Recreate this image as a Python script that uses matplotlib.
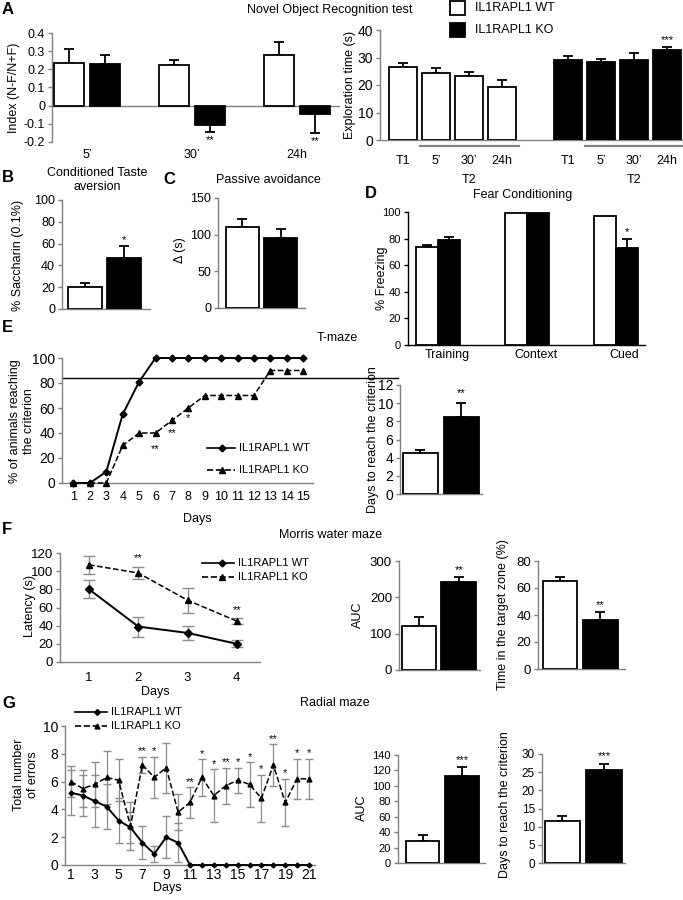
import matplotlib
matplotlib.use('Agg')
import matplotlib.pyplot as plt
from matplotlib.lines import Line2D
from matplotlib.patches import Rectangle
import matplotlib.transforms as mtransforms

plt.rcParams['font.family'] = ['Liberation Sans', 'DejaVu Sans']
plt.rcParams['font.size'] = 9
plt.rcParams['axes.linewidth'] = 1.0

# ---------------- data ----------------
# A left: novel object recognition index
nor_times = ["5\u2019", "30\u2019", "24h"]
nor_index_wt = [0.235, 0.225, 0.28]
nor_index_wt_err = [0.075, 0.025, 0.07]
nor_index_ko = [0.23, -0.105, -0.045]
nor_index_ko_err = [0.05, 0.04, 0.105]
nor_index_sig = ["", "**", "**"]

# A right: exploration time
expl_labels = ["T1", "5\u2019", "30\u2019", "24h"]
expl_wt = [26.5, 24.3, 23.4, 19.4]
expl_wt_err = [1.5, 1.8, 1.2, 2.3]
expl_ko = [29.2, 28.4, 29.2, 32.8]
expl_ko_err = [1.2, 0.9, 2.3, 1.2]
expl_ko_sig = ["", "", "", "***"]

# B: conditioned taste aversion
cta_vals = [20, 47]
cta_err = [4, 11]
cta_sig = ["", "*"]

# C: passive avoidance
pa_vals = [110, 96]
pa_err = [12, 12]

# D: fear conditioning
fc_labels = ["Training", "Context", "Cued"]
fc_wt = [74, 99, 97]
fc_wt_err = [1, 0, 0]
fc_ko = [79, 99.5, 73]
fc_ko_err = [2.5, 0, 7]
fc_ko_sig = ["", "", "*"]

# E: T-maze
tmaze_days = list(range(1, 16))
tmaze_wt = [0, 0, 9, 55, 81, 100, 100, 100, 100, 100, 100, 100, 100, 100, 100]
tmaze_ko = [0, 0, 0, 30, 40, 40, 50, 60, 70, 70, 70, 70, 90, 90, 90]
tmaze_criterion = 84
tmaze_sig_days = [6, 7, 8]
tmaze_sig = ["**", "**", "*"]
tmaze_sig_y = [27, 40, 52]
tmaze_crit_days = [4.5, 8.5]
tmaze_crit_err = [0.3, 1.5]
tmaze_crit_sig = ["", "**"]

# F: Morris water maze
mwm_days = [1, 2, 3, 4]
mwm_wt = [80, 39, 32, 20]
mwm_wt_err = [10, 11, 8, 4]
mwm_ko = [107, 98, 68, 45]
mwm_ko_err = [10, 7, 14, 3]
mwm_sig = ["", "**", "", "**"]
mwm_auc = [120, 242]
mwm_auc_err = [25, 15]
mwm_auc_sig = ["", "**"]
mwm_target = [65, 36]
mwm_target_err = [3, 6]
mwm_target_sig = ["", "**"]

# G: radial maze
rm_days = list(range(1, 22))
rm_wt = [5.2, 5.0, 4.6, 4.2, 3.2, 2.7, 1.6, 0.8, 2.0, 1.6, 0, 0, 0, 0, 0, 0, 0, 0, 0, 0, 0]
rm_wt_err = [1.6, 1.5, 1.9, 1.6, 1.6, 1.1, 1.2, 0.6, 1.5, 1.4, 0, 0, 0, 0, 0, 0, 0, 0, 0, 0, 0]
rm_ko = [6.0, 5.5, 5.8, 6.3, 6.1, 2.8, 7.2, 6.3, 7.0, 3.8, 4.5, 6.3, 5.0, 5.7, 6.1, 5.8, 4.8, 7.2, 4.5, 6.2, 6.2]
rm_ko_err = [1.1, 1.3, 1.6, 1.9, 1.5, 1.7, 0.6, 1.5, 1.8, 1.3, 1.1, 1.3, 1.9, 1.3, 0.9, 1.6, 1.7, 1.5, 1.7, 1.45, 1.45]
rm_sig = ["", "", "", "", "", "", "**", "*", "", "", "**", "*", "*", "**", "*", "*", "*", "**", "*", "*", "*"]
rm_auc = [28, 113]
rm_auc_err = [8, 12]
rm_auc_sig = ["", "***"]
rm_crit = [11.5, 25.5]
rm_crit_err = [1.5, 1.8]
rm_crit_sig = ["", "***"]

# ---------------- helpers ----------------
W, H = 683, 900
fig = plt.figure(figsize=(W / 100, H / 100), dpi=100)
GRAY_AX = '#808080'
ERR_GRAY = '#8c8c8c'


def ax_px(l, t, r, b, spine_color=GRAY_AX, labelsize=9):
    ax = fig.add_axes([l / W, 1 - b / H, (r - l) / W, (b - t) / H])
    for s in ('top', 'right'):
        ax.spines[s].set_visible(False)
    for s in ('left', 'bottom'):
        ax.spines[s].set_color(spine_color)
    ax.tick_params(axis='y', direction='out', length=3, width=1, color=spine_color, pad=2, labelsize=labelsize)
    ax.tick_params(axis='x', length=0, labelsize=labelsize)
    ax.patch.set_alpha(0)
    return ax


def ftext(x, y, s, **kw):
    kw.setdefault('ha', 'center')
    kw.setdefault('va', 'center')
    return fig.text(x / W, 1 - y / H, s, **kw)


def panel_letter(x, y, s):
    ftext(x, y, s, fontsize=12, fontweight='bold', ha='left')


def ylabel_px(x, y, s, **kw):
    ftext(x, y, s, rotation=90, **kw)


def bars(ax, xs, vals, errs, color, width):
    ax.bar(xs, vals, width, color=color, edgecolor='black', linewidth=1.3, zorder=3)
    for x, v, e in zip(xs, vals, errs):
        if e > 0:
            yerr = [[0], [e]] if v >= 0 else [[e], [0]]
            ax.errorbar([x], [v], yerr=yerr, fmt='none', ecolor='black', elinewidth=1.3,
                        capsize=3.5, capthick=1.3, zorder=2)


def stars(ax, xs, vals, errs, sigs, off):
    for x, v, e, s in zip(xs, vals, errs, sigs):
        if s:
            if v >= 0:
                ax.text(x, v + e + off, s, ha='center', va='center', fontsize=8)
            else:
                ax.text(x, v - e - off, s, ha='center', va='center', fontsize=8)


def pair_chart(box, vals, errs, sigs, ylim, ticks, xlim, width, off, spine_color=GRAY_AX, labelsize=9):
    ax = ax_px(*box, spine_color=spine_color, labelsize=labelsize)
    xs = list(range(len(vals)))
    bars(ax, xs[:1], vals[:1], errs[:1], 'white', width)
    bars(ax, xs[1:], vals[1:], errs[1:], 'black', width)
    if sigs:
        stars(ax, xs, vals, errs, sigs, off)
    ax.set_xlim(*xlim)
    ax.set_ylim(*ylim)
    ax.set_yticks(ticks)
    ax.set_xticks([])
    return ax


def legend_line(x0, x1, xm, y, ls, marker, ms, label, fs=8):
    fig.add_artist(Line2D([x0 / W, x1 / W], [1 - y / H, 1 - y / H], transform=fig.transFigure,
                          color='black', lw=1.2, ls=ls))
    fig.add_artist(Line2D([xm / W], [1 - y / H], transform=fig.transFigure, color='black',
                          marker=marker, ms=ms, ls='none'))
    ftext(x1 + 4, y, label, ha='left', fontsize=fs)


# ---------------- A left ----------------
axA1 = ax_px(52, 33, 340, 142)
xsA = list(range(len(nor_times)))
bars(axA1, [x - 0.17 for x in xsA], nor_index_wt, nor_index_wt_err, 'white', 0.29)
bars(axA1, [x + 0.17 for x in xsA], nor_index_ko, nor_index_ko_err, 'black', 0.29)
stars(axA1, [x + 0.17 for x in xsA], nor_index_ko, nor_index_ko_err, nor_index_sig, 0.045)
axA1.set_xlim(-0.333, 2.41)
axA1.set_ylim(-0.2, 0.4)
axA1.spines['bottom'].set_visible(False)
axA1.axhline(0, color=GRAY_AX, lw=1, zorder=1)
yt = [-0.2, -0.1, 0, 0.1, 0.2, 0.3, 0.4]
axA1.set_yticks(yt)
axA1.set_yticklabels(['-0.2', '-0.1', '0', '0.1', '0.2', '0.3', '0.4'])
axA1.set_xticks(xsA)
axA1.set_xticklabels(nor_times)
axA1.tick_params(axis='x', pad=5)
ylabel_px(14, 88, 'Index (N-F/N+F)')
panel_letter(2, 9, 'A')
ftext(330, 10, 'Novel Object Recognition test')

# ---------------- A right ----------------
axA2 = ax_px(380, 30, 683, 140, labelsize=10)
n = len(expl_labels)
wt_x = list(range(n))
ko_x = [i + n + 1 for i in range(n)]
bars(axA2, wt_x, expl_wt, expl_wt_err, 'white', 0.85)
bars(axA2, ko_x, expl_ko, expl_ko_err, 'black', 0.85)
stars(axA2, ko_x, expl_ko, expl_ko_err, expl_ko_sig, 2.5)
axA2.set_xlim(-0.70, 8.48)
axA2.set_ylim(0, 40)
axA2.set_yticks([0, 10, 20, 30, 40])
axA2.set_xticks(wt_x + ko_x)
axA2.set_xticklabels(expl_labels + expl_labels)
axA2.tick_params(axis='x', pad=11, labelsize=9)
bt = mtransforms.blended_transform_factory(axA2.transData, axA2.transAxes)
for grp in (wt_x, ko_x):
    axA2.plot([grp[1] - 0.5, grp[-1] + 0.5], [-0.055, -0.055], transform=bt, color=GRAY_AX,
              lw=1.5, clip_on=False)
    axA2.text((grp[1] + grp[-1]) / 2, -0.36, 'T2', transform=bt, ha='center', va='center')
ylabel_px(350, 85, 'Exploration time (s)')


def legend_box(x, y, color, label):
    fig.add_artist(Rectangle((x / W, 1 - (y + 14) / H), 15 / W, 14 / H, transform=fig.transFigure,
                             facecolor=color, edgecolor='black', lw=1.3))
    ftext(x + 25, y + 7, label, ha='left', fontsize=9)


legend_box(450, 1, 'white', 'IL1RAPL1 WT')
legend_box(450, 23, 'black', 'IL1RAPL1 KO')

# ---------------- B ----------------
pair_chart((62, 200, 150, 309), cta_vals, cta_err, cta_sig, (0, 100), [0, 20, 40, 60, 80, 100],
           (-0.58, 1.65), 0.86, 5)
ylabel_px(18, 255, '% Saccharin (0.1%)')
panel_letter(2, 178, 'B')
ftext(97, 180, 'Conditioned Taste\naversion', linespacing=1.15)

# ---------------- C ----------------
pair_chart((218, 198, 305, 308), pa_vals, pa_err, None, (0, 150), [0, 50, 100, 150],
           (-0.62, 1.62), 0.85, 5)
ylabel_px(180, 250, '\u0394 (s)')
panel_letter(163, 180, 'C')
ftext(268, 180, 'Passive avoidance')

# ---------------- D ----------------
axD = ax_px(408, 212, 645, 345, spine_color='black', labelsize=8)
xsD = list(range(len(fc_labels)))
bars(axD, [x - 0.124 for x in xsD], fc_wt, fc_wt_err, 'white', 0.247)
bars(axD, [x + 0.124 for x in xsD], fc_ko, fc_ko_err, 'black', 0.247)
stars(axD, [x + 0.124 for x in xsD], fc_ko, fc_ko_err, fc_ko_sig, 5)
axD.set_xlim(-0.337, 2.33)
axD.set_ylim(0, 100)
axD.set_yticks([0, 20, 40, 60, 80, 100])
axD.set_xticks([x + 0.1 for x in xsD])
axD.set_xticklabels(fc_labels)
axD.tick_params(axis='x', pad=3, labelsize=9)
ylabel_px(382, 278, '% Freezing')
panel_letter(365, 193, 'D')
ftext(523, 195, 'Fear Conditioning')

# ---------------- E left ----------------
axE1 = ax_px(62, 358, 313, 483, labelsize=10)
axE1.plot(tmaze_days, tmaze_wt, '-', color='black', marker='D', ms=3.5, lw=1.4, clip_on=False, zorder=3)
axE1.plot(tmaze_days, tmaze_ko, '--', color='black', marker='^', ms=4.5, lw=1.1, clip_on=False, zorder=3)
axE1.axhline(tmaze_criterion, xmin=0, xmax=(398 - 62) / (313 - 62), color='black', lw=1, clip_on=False)
for d, s, y in zip(tmaze_sig_days, tmaze_sig, tmaze_sig_y):
    axE1.text(d, y, s, ha='center', va='center', fontsize=8)
axE1.set_xlim(0.3, 15.6)
axE1.set_ylim(0, 100)
axE1.set_yticks([0, 20, 40, 60, 80, 100])
axE1.set_xticks(tmaze_days)
axE1.tick_params(axis='x', pad=6, labelsize=9)
ylabel_px(22, 421, '% of animals reaching\nthe criterion', linespacing=1.15)
ftext(197, 519, 'Days')
panel_letter(2, 327, 'E')
ftext(337, 338, 'T-maze')
legend_line(207, 235, 222, 448, '-', 'D', 3.5, 'IL1RAPL1 WT')
legend_line(207, 235, 222, 470, '--', '^', 4.5, 'IL1RAPL1 KO')

# ---------------- E right ----------------
pair_chart((400, 385, 482, 494), tmaze_crit_days, tmaze_crit_err, tmaze_crit_sig, (0, 12),
           [0, 2, 4, 6, 8, 10, 12], (-0.49, 1.51), 0.85, 1.1, labelsize=10)
ylabel_px(373, 440, 'Days to reach the criterion')

# ---------------- F left ----------------
axF1 = ax_px(60, 553, 260, 662, labelsize=9.5)
axF1.errorbar(mwm_days, mwm_wt, yerr=mwm_wt_err, fmt='none', ecolor=ERR_GRAY, elinewidth=1, capsize=4, zorder=1)
axF1.errorbar(mwm_days, mwm_ko, yerr=mwm_ko_err, fmt='none', ecolor=ERR_GRAY, elinewidth=1, capsize=4, zorder=1)
axF1.plot(mwm_days, mwm_wt, '-', color='black', marker='D', ms=4, lw=1.4, zorder=3)
axF1.plot(mwm_days, mwm_ko, '--', color='black', marker='^', ms=5, lw=1.1, zorder=3)
stars(axF1, mwm_days, mwm_ko, mwm_ko_err, mwm_sig, 9)
axF1.set_xlim(0.41, 4.47)
axF1.set_ylim(0, 120)
axF1.set_yticks([0, 20, 40, 60, 80, 100, 120])
axF1.set_xticks(mwm_days)
axF1.tick_params(axis='x', pad=7)
ylabel_px(30, 606, 'Latency (s)')
ftext(155, 692, 'Days')
panel_letter(2, 530, 'F')
ftext(331, 535, 'Morris water maze')
legend_line(202, 234, 222, 563, '-', 'D', 3.5, 'IL1RAPL1 WT')
legend_line(202, 234, 222, 577, '--', '^', 4.5, 'IL1RAPL1 KO')

# ---------------- F AUC ----------------
pair_chart((399, 561, 480, 670), mwm_auc, mwm_auc_err, mwm_auc_sig, (0, 300), [0, 100, 200, 300],
           (-0.51, 1.54), 0.87, 18, labelsize=9.5)
ylabel_px(358, 615, 'AUC')

# ---------------- F target ----------------
pair_chart((538, 561, 625, 669), mwm_target, mwm_target_err, mwm_target_sig, (0, 80), [0, 20, 40, 60, 80],
           (-0.55, 1.62), 0.87, 5, labelsize=9.5)
ylabel_px(503, 615, 'Time in the target zone (%)')

# ---------------- G left ----------------
axG1 = ax_px(65, 726, 315, 865, labelsize=10)
axG1.errorbar(rm_days, rm_wt, yerr=rm_wt_err, fmt='none', ecolor=ERR_GRAY, elinewidth=0.9, capsize=3, zorder=1)
axG1.errorbar(rm_days, rm_ko, yerr=rm_ko_err, fmt='none', ecolor=ERR_GRAY, elinewidth=0.9, capsize=3, zorder=1)
axG1.plot(rm_days, rm_wt, '-', color='black', marker='D', ms=2.5, lw=1.4, zorder=3, clip_on=False)
axG1.plot(rm_days, rm_ko, '--', color='black', marker='^', ms=3.5, lw=1.1, zorder=3)
stars(axG1, rm_days, rm_ko, rm_ko_err, rm_sig, 0.38)
axG1.set_xlim(0.5, 21.5)
axG1.set_ylim(0, 10)
axG1.set_yticks([0, 2, 4, 6, 8, 10])
axG1.set_xticks(rm_days[::2])
axG1.tick_params(axis='x', pad=2)
ylabel_px(26, 775, 'Total number\nof errors', linespacing=1.15)
ftext(167, 888, 'Days')
panel_letter(2, 703, 'G')
ftext(335, 703, 'Radial maze')
legend_line(75, 107, 97, 712, '-', 'D', 3, 'IL1RAPL1 WT')
legend_line(75, 107, 97, 726, '--', '^', 3.5, 'IL1RAPL1 KO')

# ---------------- G AUC ----------------
pair_chart((398, 755, 485, 863), rm_auc, rm_auc_err, rm_auc_sig, (0, 140), [0, 20, 40, 60, 80, 100, 120, 140],
           (-0.62, 1.58), 0.84, 8, labelsize=8)
ylabel_px(362, 808, 'AUC')

# ---------------- G criterion ----------------
pair_chart((542, 754, 625, 863), rm_crit, rm_crit_err, rm_crit_sig, (0, 30), [0, 5, 10, 15, 20, 25, 30],
           (-0.49, 1.5), 0.86, 2.2, labelsize=8.5)
ylabel_px(505, 805, 'Days to reach the criterion')

fig.savefig('out.png', dpi=100)
